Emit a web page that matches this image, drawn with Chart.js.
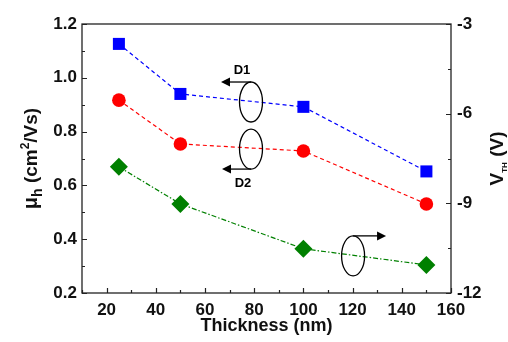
<!DOCTYPE html>
<html><head><meta charset="utf-8">
<script src="https://cdn.jsdelivr.net/npm/chart.js@4"></script>
<style>html,body{margin:0;padding:0;background:#fff}#wrap{width:508px;height:342px}</style>
</head><body><div id="wrap"><canvas id="c" width="508" height="342"></canvas></div>
<script>
const thickness = [25, 50, 100, 150];
const mobilityD1 = [1.126, 0.94, 0.892, 0.652];
const mobilityD2 = [0.917, 0.754, 0.728, 0.531];
const vth = [-7.78, -9.02, -10.52, -11.06];
const xTicks = [20, 40, 60, 80, 100, 120, 140, 160];
const yLeftTicks = [0.2, 0.4, 0.6, 0.8, 1.0, 1.2];
const yRightTicks = [-12, -9, -6, -3];

const FONT = '"Liberation Sans", Arial, sans-serif';
const toPts = (xs, ys) => xs.map((x, i) => ({x, y: ys[i]}));

const framePlugin = {
  id: 'frame',
  afterDraw(chart) {
    const {ctx, chartArea: a, scales} = chart;
    const sx = scales.x, yl = scales.y, yr = scales.y2;
    ctx.save();
    ctx.strokeStyle = '#222';
    ctx.lineWidth = 1.3;
    ctx.strokeRect(a.left, a.top, a.right - a.left, a.bottom - a.top);
    ctx.lineWidth = 1.2;
    ctx.beginPath();
    for (let v = 10; v <= 160; v += 10) {
      const px = Math.round(sx.getPixelForValue(v)) + 0.5;
      const len = v % 20 === 0 ? 5 : 3;
      ctx.moveTo(px, a.bottom); ctx.lineTo(px, a.bottom - len);
    }
    for (let k = 2; k <= 12; k++) {
      const v = k / 10;
      const py = Math.round(yl.getPixelForValue(v)) + 0.5;
      const len = k % 2 === 0 ? 5 : 3;
      ctx.moveTo(a.left, py); ctx.lineTo(a.left + len, py);
    }
    for (let k = 0; k <= 6; k++) {
      const v = -12 + k * 1.5;
      const py = Math.round(yr.getPixelForValue(v)) + 0.5;
      const len = k % 2 === 0 ? 5 : 3;
      ctx.moveTo(a.right, py); ctx.lineTo(a.right - len, py);
    }
    ctx.stroke();

    const P = (x, y) => [sx.getPixelForValue(x), yl.getPixelForValue(y)];
    ctx.strokeStyle = '#000'; ctx.fillStyle = '#000'; ctx.lineWidth = 1.3;
    const ellipse = (cx, cy) => { ctx.beginPath(); ctx.ellipse(cx, cy, 11.5, 20, 0, 0, Math.PI * 2); ctx.stroke(); };
    const arrow = (x0, y0, x1) => {
      const dir = Math.sign(x1 - x0);
      ctx.beginPath(); ctx.moveTo(x0, y0); ctx.lineTo(x1 - dir * 8, y0); ctx.stroke();
      ctx.beginPath(); ctx.moveTo(x1, y0); ctx.lineTo(x1 - dir * 9, y0 - 4.5); ctx.lineTo(x1 - dir * 9, y0 + 4.5); ctx.closePath(); ctx.fill();
    };
    let [cx, cy] = P(78.7, 0.91);
    ellipse(cx, cy); arrow(cx, cy - 20, cx - 30);
    ctx.font = 'bold 13px ' + FONT; ctx.textAlign = 'center'; ctx.textBaseline = 'middle';
    ctx.fillText('D1', cx - 9, cy - 32);
    [cx, cy] = P(78.7, 0.735);
    ellipse(cx, cy); arrow(cx, cy + 20, cx - 29);
    ctx.fillText('D2', cx - 8, cy + 34);
    [cx, cy] = P(120.2, 0.338);
    ellipse(cx, cy); arrow(cx, cy - 20, cx + 33);

    ctx.fillStyle = '#111';
    ctx.textBaseline = 'alphabetic';
    ctx.font = 'bold 18px ' + FONT; ctx.textAlign = 'center';
    ctx.fillText('Thickness (nm)', (a.left + a.right) / 2, 331);

    const drawRuns = (runs, x, y) => {
      ctx.save(); ctx.translate(x, y); ctx.rotate(-Math.PI / 2);
      let total = 0;
      runs.forEach(r => { ctx.font = r.f; total += ctx.measureText(r.t).width; });
      let pos = -total / 2;
      ctx.textAlign = 'left';
      runs.forEach(r => { ctx.font = r.f; ctx.fillText(r.t, pos, r.dy || 0); pos += ctx.measureText(r.t).width; });
      ctx.restore();
    };
    drawRuns([
      {t: 'μ', f: 'bold 20px ' + FONT},
      {t: 'h', f: 'bold 14px ' + FONT, dy: 5},
      {t: ' (cm', f: 'bold 19px ' + FONT},
      {t: '2', f: 'bold 12px ' + FONT, dy: -8},
      {t: '/Vs)', f: 'bold 19px ' + FONT}
    ], 37, (a.top + a.bottom) / 2);
    drawRuns([
      {t: 'V', f: 'bold 19px ' + FONT},
      {t: 'TH', f: 'bold 8px ' + FONT, dy: 4},
      {t: ' (V)', f: 'bold 19px ' + FONT}
    ], 503, (a.top + a.bottom) / 2);
    ctx.restore();
  }
};

new Chart(document.getElementById('c'), {
  type: 'line',
  data: {
    datasets: [
      {label: 'D1', data: toPts(thickness, mobilityD1), yAxisID: 'y', borderColor: '#0000ff', backgroundColor: '#0000ff',
       borderWidth: 1.2, borderDash: [4, 3], pointStyle: 'rect', pointRadius: 8.5, pointBorderWidth: 0, tension: 0},
      {label: 'D2', data: toPts(thickness, mobilityD2), yAxisID: 'y', borderColor: '#ff0000', backgroundColor: '#ff0000',
       borderWidth: 1.2, borderDash: [4, 3], pointStyle: 'circle', pointRadius: 6.8, pointBorderWidth: 0, tension: 0},
      {label: 'VTH', data: toPts(thickness, vth), yAxisID: 'y2', borderColor: '#008000', backgroundColor: '#008000',
       borderWidth: 1.2, borderDash: [5, 2, 1.5, 2], pointStyle: 'rectRot', pointRadius: 9, pointBorderWidth: 0, tension: 0}
    ]
  },
  options: {
    responsive: false, animation: false,
    layout: {padding: {top: 24, left: 0, right: 0, bottom: 0}},
    plugins: {legend: {display: false}, tooltip: {enabled: false}},
    scales: {
      x: {type: 'linear', min: 10, max: 160,
        afterBuildTicks: s => { s.ticks = xTicks.map(v => ({value: v})); },
        afterFit: s => { s.height = 49; },
        grid: {display: false, drawTicks: false}, border: {display: false},
        ticks: {padding: 7, color: '#111', font: {family: FONT, size: 17, weight: 'bold'}, maxRotation: 0}},
      y: {type: 'linear', position: 'left', min: 0.2, max: 1.2,
        afterBuildTicks: s => { s.ticks = yLeftTicks.map(v => ({value: v})); },
        afterFit: s => { s.width = 82; },
        grid: {display: false, drawTicks: false}, border: {display: false},
        ticks: {padding: 5, color: '#111', font: {family: FONT, size: 17, weight: 'bold'}, callback: v => v.toFixed(1)}},
      y2: {type: 'linear', position: 'right', min: -12, max: -3,
        afterBuildTicks: s => { s.ticks = yRightTicks.map(v => ({value: v})); },
        afterFit: s => { s.width = 57; },
        grid: {display: false, drawTicks: false}, border: {display: false},
        ticks: {padding: 6, color: '#111', font: {family: FONT, size: 17, weight: 'bold'}}}
    }
  },
  plugins: [framePlugin]
});
</script></body></html>
